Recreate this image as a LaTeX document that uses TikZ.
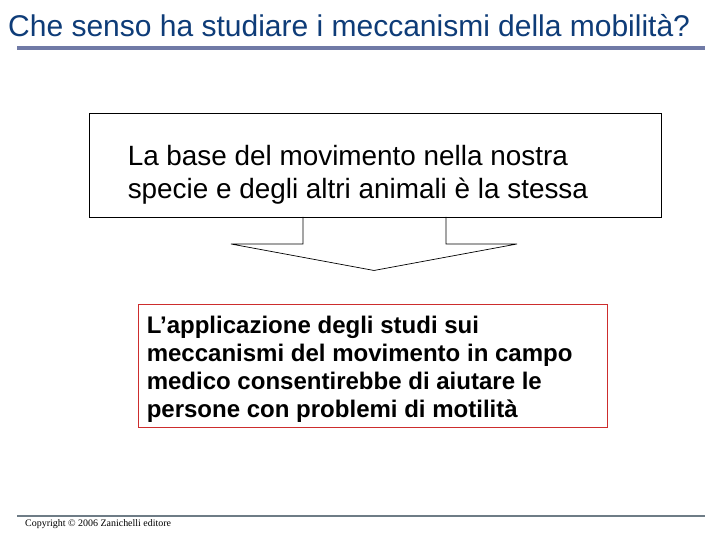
\documentclass[tikz,border=0pt]{standalone}
\usepackage{fontspec}
\setmainfont{Liberation Serif}
\setsansfont{Liberation Sans}
\usepackage{xcolor}
\usetikzlibrary{calc}
\usetikzlibrary{positioning}
\definecolor{titleblue}{RGB}{14,60,120}
\definecolor{rulemauve}{RGB}{112,122,166}
\definecolor{rulegray}{RGB}{110,124,134}
\definecolor{boxred}{RGB}{205,45,45}

\begin{document}
\begin{tikzpicture}[x=0.03cm, y=-0.03cm, font=\sffamily]
	\tikzstyle{titletext}=[anchor=base west, inner sep=0pt, text=titleblue, font=\sffamily\fontsize{25.6}{30}\selectfont]
	\tikzstyle{basebox}=[draw=black, line width=0.8pt, rectangle, fill=white, minimum width=17.16cm, minimum height=3.12cm, inner sep=0pt]
	\tikzstyle{appbox}=[draw=boxred, line width=0.8pt, rectangle, fill=white, minimum width=14.07cm, minimum height=3.69cm, inner sep=0pt]
	\tikzstyle{basetext}=[anchor=west, inner sep=0pt, align=left, font=\sffamily\fontsize{23.8}{28.5}\selectfont]
	\tikzstyle{apptext}=[anchor=west, inner sep=0pt, align=left, font=\sffamily\bfseries\fontsize{20.5}{24}\selectfont]
	\tikzstyle{blockarrow}=[draw=black, line width=0.6pt]
	\tikzstyle{copy}=[anchor=north west, inner sep=0pt, font=\rmfamily\fontsize{8.5}{10}\selectfont]

	\useasboundingbox[fill=white] (0,0) rectangle (720,540);

	% title and rules
	\node[titletext] (title) at (8,36.5) {Che senso ha studiare i meccanismi della mobilità?};
	\draw[rulemauve, line width=0.12cm] (17,48) -- (705,48);
	\draw[rulegray, line width=0.07cm] (17,516) -- (705,516);
	\node[copy] (copyright) at (25,519.5) {Copyright © 2006 Zanichelli editore};

	% upper box
	\node[basebox] (base) at (375,165) {};
	\node[basetext] (basetxt) at ($(base.west)+(39,10)$) {La base del movimento nella nostra\\specie e degli altri animali è la stessa};

	% block arrow
	\coordinate (tip) at ($(base.south)+(-1,53)$);
	\draw[blockarrow] (303,217) -- (303,244) -- (231,244) -- (tip) -- (517,244) -- (446,244) -- (446,217);

	% lower box
	\node[appbox] (app) at (372.5,365.5) {};
	\node[apptext] (apptxt) at ($(app.west)+(9,4)$) {L’applicazione degli studi sui\\meccanismi del movimento in campo\\medico consentirebbe di aiutare le\\persone con problemi di motilità};
\end{tikzpicture}
\end{document}
